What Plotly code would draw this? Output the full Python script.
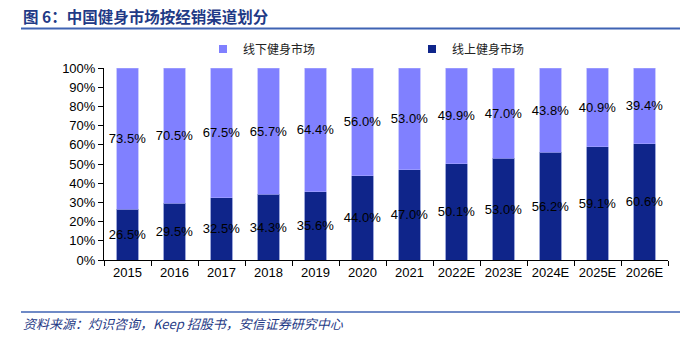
import plotly.graph_objects as go

years = ["2015", "2016", "2017", "2018", "2019", "2020", "2021",
         "2022E", "2023E", "2024E", "2025E", "2026E"]
online = [26.5, 29.5, 32.5, 34.3, 35.6, 44.0, 47.0, 50.1, 53.0, 56.2, 59.1, 60.6]
offline = [73.5, 70.5, 67.5, 65.7, 64.4, 56.0, 53.0, 49.9, 47.0, 43.8, 40.9, 39.4]

series_online = "线上健身市场"
series_offline = "线下健身市场"
title_text = "图 6：中国健身市场按经销渠道划分"
source_text = "资料来源：灼识咨询，Keep 招股书，安信证券研究中心"

c_online = "#0f258a"
c_offline = "#8080ff"
c_blue = "#1f3a86"
c_line = "#3f63b3"

L, R, T, B = 104, 14, 68, 78
W, H = 682, 338
pw, ph = W - L - R, H - T - B

def px2x(px):
    return (px - L) / pw

def px2y(py):
    return (H - B - py) / ph

label_font = dict(family="Liberation Sans, Arial", size=13, color="black")

fig = go.Figure()
fig.add_trace(go.Bar(
    x=years, y=online, name=series_online, marker_color=c_online,
    marker_line=dict(color="#5a6cc0", width=0.6),
    text=[f"{v:.1f}%" for v in online], textposition="inside",
    insidetextanchor="middle", textfont=label_font, showlegend=False,
    textangle=0, constraintext="none",
))
fig.add_trace(go.Bar(
    x=years, y=offline, name=series_offline, marker_color=c_offline,
    marker_line=dict(color="#a8a8ff", width=0.6),
    text=[f"{v:.1f}%" for v in offline], textposition="inside",
    insidetextanchor="middle", textfont=label_font, showlegend=False,
    textangle=0, constraintext="none",
))
# legend entries
fig.add_trace(go.Scatter(x=[None], y=[None], mode="markers", name=series_offline,
                         marker=dict(symbol="square", size=8, color=c_offline)))
fig.add_trace(go.Scatter(x=[None], y=[None], mode="markers", name=series_online,
                         marker=dict(symbol="square", size=8, color=c_online)))

fig.update_layout(
    width=W, height=H,
    margin=dict(l=L, r=R, t=T, b=B, autoexpand=False),
    barmode="stack", bargap=0.55,
    plot_bgcolor="white", paper_bgcolor="white",
    uniformtext=dict(mode=False),
    legend=dict(orientation="h", x=px2x(203), xanchor="left",
                y=px2y(49), yanchor="middle", traceorder="normal",
                font=dict(family="Noto Sans CJK SC", size=12, color="#222"),
                entrywidth=164, entrywidthmode="pixels",
                itemwidth=30, bgcolor="rgba(0,0,0,0)"),
    xaxis=dict(type="category", range=[-0.5, 11.5], showline=True, linecolor="black",
               linewidth=1, ticks="outside", tickson="boundaries", ticklen=5,
               tickcolor="black", tickfont=label_font, showgrid=False, fixedrange=True),
    yaxis=dict(range=[0, 100], tickvals=list(range(0, 101, 10)),
               ticktext=[f"{v}%" for v in range(0, 101, 10)],
               showline=True, linecolor="black", linewidth=1, ticks="outside",
               ticklen=5, tickcolor="black", tickfont=label_font, showgrid=False,
               zeroline=False, fixedrange=True),
    font=dict(family="Liberation Sans, Arial"),
)

fig.add_annotation(text=f"<b>{title_text}</b>", xref="paper", yref="paper",
                   x=px2x(21), y=px2y(16), xanchor="left", yanchor="middle",
                   showarrow=False,
                   font=dict(family="Noto Sans CJK SC", size=15.5, color=c_blue))
fig.add_annotation(text=source_text, xref="paper", yref="paper",
                   x=px2x(21), y=px2y(323), xanchor="left", yanchor="middle",
                   showarrow=False,
                   font=dict(family="Noto Sans CJK SC", size=13, color=c_blue,
                             style="italic"))
fig.add_shape(type="line", xref="paper", yref="paper",
              x0=px2x(21), x1=px2x(680), y0=px2y(28.5), y1=px2y(28.5),
              line=dict(color=c_line, width=2))
fig.add_shape(type="line", xref="paper", yref="paper",
              x0=px2x(21), x1=px2x(680), y0=px2y(312), y1=px2y(312),
              line=dict(color=c_line, width=1.5))

fig.write_html("out.html")
